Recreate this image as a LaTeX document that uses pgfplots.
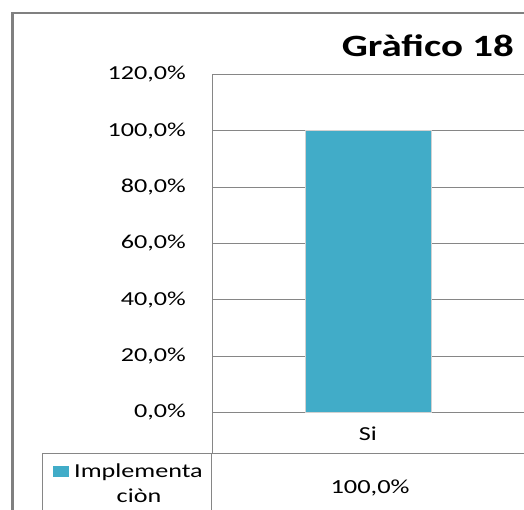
\documentclass[border=0pt]{standalone}
\usepackage{pgfplots}
\pgfplotsset{compat=1.18}
\usepackage{fontspec}
\setmainfont{Carlito}[FakeStretch=1.32]
\definecolor{gridgray}{RGB}{134,134,134}
\definecolor{framegray}{RGB}{128,128,128}
\definecolor{barblue}{RGB}{65,172,200}
\newcommand{\lblfont}{\fontsize{19.8}{22}\selectfont}
\begin{document}
\begin{tikzpicture}[x=1pt,y=1pt]
\useasboundingbox (0,0) rectangle (524,-510);
\clip (0,0) rectangle (524,-510);
\fill[white] (0,0) rectangle (524,-510);
% outer chart frame
\draw[framegray, line width=2.5pt] (12.5,-600) -- (12.5,-13) -- (600,-13);
% title
\node[anchor=base east, inner sep=0pt, font=\fontsize{31}{34}\selectfont\bfseries] at (514,-57) {Gràfico 18};
\begin{axis}[
  at={(212pt,-412.5pt)}, anchor=south west,
  scale only axis, width=312pt, height=338pt,
  xmin=-0.5, xmax=0.5, ymin=0, ymax=120,
  axis x line*=bottom, axis y line*=left,
  axis line style={draw=gridgray, line width=1pt, -},
  ymajorgrids, grid style={gridgray, line width=0.9pt},
  major tick length=0pt,
  ytick={0,20,...,120}, xtick={0}, xticklabels={Si},
  /pgf/number format/assume math mode=true,
  yticklabel={\pgfmathprintnumber[fixed,fixed zerofill,precision=1,use comma]{\tick}\%},
  y tick label style={anchor=east, inner sep=0pt, xshift=-26pt, font=\lblfont},
  x tick label style={anchor=center, inner sep=0pt, yshift=-21.5pt, font=\lblfont},
  ybar, bar width=126pt,
]
\addplot[fill=barblue, draw=white!82!black, line width=1pt] coordinates {(0,100)};
\end{axis}
% category row / data table lines
\draw[gridgray, line width=1pt] (212,-412.5) -- (212,-453);
\draw[gridgray, line width=1pt] (42.5,-600) -- (42.5,-453) -- (600,-453);
\draw[gridgray, line width=1pt] (211,-453) -- (211,-600);
% legend key and series name
\fill[barblue] (53,-466) rectangle (69,-476.5);
\node[anchor=base west, inner sep=0pt, font=\lblfont] at (74,-477) {Implementa};
\node[anchor=base, inner sep=0pt, font=\lblfont] at (139,-502.5) {ciòn};
\node[anchor=base, inner sep=0pt, font=\fontsize{20}{23}\selectfont] at (370,-493) {100,0\%};
\end{tikzpicture}
\end{document}
